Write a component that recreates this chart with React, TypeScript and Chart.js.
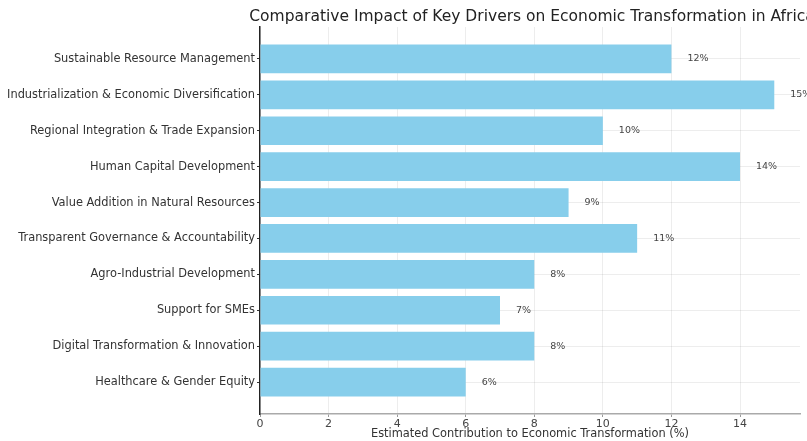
import React, { useEffect, useRef } from "react";
import { Chart, registerables } from "chart.js";

Chart.register(...registerables);

const categories = [
  "Sustainable Resource Management",
  "Industrialization & Economic Diversification",
  "Regional Integration & Trade Expansion",
  "Human Capital Development",
  "Value Addition in Natural Resources",
  "Transparent Governance & Accountability",
  "Agro-Industrial Development",
  "Support for SMEs",
  "Digital Transformation & Innovation",
  "Healthcare & Gender Equity",
];
const values = [12, 15, 10, 14, 9, 11, 8, 7, 8, 6];
const xTicks = [0, 2, 4, 6, 8, 10, 12, 14];
const titleText = "Comparative Impact of Key Drivers on Economic Transformation in Africa";
const xTitle = "Estimated Contribution to Economic Transformation (%)";

const FONT = "'DejaVu Sans', sans-serif";

export default function App() {
  const ref = useRef<HTMLCanvasElement | null>(null);
  useEffect(() => {
    if (!ref.current) return;
    const titlePlugin = {
      id: "customTitle",
      afterDraw(chart: any) {
        const { ctx, chartArea } = chart;
        ctx.save();
        ctx.font = `15.5px ${FONT}`;
        ctx.fillStyle = "#222";
        ctx.textAlign = "center";
        ctx.textBaseline = "middle";
        ctx.fillText(titleText, (chartArea.left + chartArea.right) / 2 + 2, 17);
        ctx.restore();
      },
    };
    const valueLabels = {
      id: "valueLabels",
      afterDatasetsDraw(chart: any) {
        const { ctx } = chart;
        const meta = chart.getDatasetMeta(0);
        ctx.save();
        ctx.font = `9.5px ${FONT}`;
        ctx.fillStyle = "#444";
        ctx.textAlign = "left";
        ctx.textBaseline = "middle";
        meta.data.forEach((el: any, i: number) => {
          ctx.fillText(`${values[i]}%`, el.x + 16, el.y);
        });
        ctx.restore();
      },
    };
    const chart = new Chart(ref.current, {
      type: "bar",
      data: {
        datasets: [
          {
            data: values.map((v, i) => ({ x: v, y: i })),
            backgroundColor: "#87CEEB",
            borderWidth: 0,
            categoryPercentage: 0.8,
            barPercentage: 1.0,
          },
        ],
      },
      options: {
        indexAxis: "y",
        animation: false,
        responsive: false,
        layout: { padding: { top: 27, left: 0, right: 7, bottom: 0 } },
        plugins: {
          legend: { display: false },
          title: { display: false },
          tooltip: { enabled: false },
        },
        scales: {
          x: {
            type: "linear",
            min: 0,
            max: 15.75,
            ticks: {
              stepSize: 2,
              includeBounds: false,
              color: "#444",
              font: { family: FONT, size: 11 },
              padding: 1,
            },
            afterBuildTicks: (axis: any) => {
              axis.ticks = xTicks.map((v) => ({ value: v }));
            },
            grid: {
              color: "rgba(0,0,0,0.07)",
              tickColor: "#999",
              tickLength: 3,
            },
            border: { color: "#aaa", width: 1.5 },
            title: {
              display: true,
              text: xTitle,
              color: "#333",
              font: { family: FONT, size: 11.4 },
              padding: { top: 0, bottom: 0 },
            },
            afterFit: (scale: any) => {
              scale.height = 27;
            },
          },
          y: {
            type: "linear",
            min: -0.89,
            max: 9.89,
            reverse: true,
            offset: false,
            afterBuildTicks: (axis: any) => {
              axis.ticks = categories.map((_, i) => ({ value: i }));
            },
            ticks: {
              autoSkip: false,
              color: "#333",
              font: { family: FONT, size: 11.4 },
              padding: 2,
              callback: (v: any) => categories[v as number] ?? "",
            },
            grid: {
              offset: false,
              color: "rgba(0,0,0,0.07)",
              tickColor: "#333",
              tickLength: 3,
            },
            border: { color: "#222", width: 1.5 },
            afterFit: (scale: any) => {
              scale.width = 260;
            },
          },
        },
      },
      plugins: [titlePlugin, valueLabels],
    } as any);
    return () => chart.destroy();
  }, []);
  return (
    <div style={{ position: "fixed", left: 0, top: 0, width: 807, height: 441, overflow: "hidden", background: "#fff" }}>
      <canvas ref={ref} width={807} height={441} style={{ display: "block" }} />
    </div>
  );
}
